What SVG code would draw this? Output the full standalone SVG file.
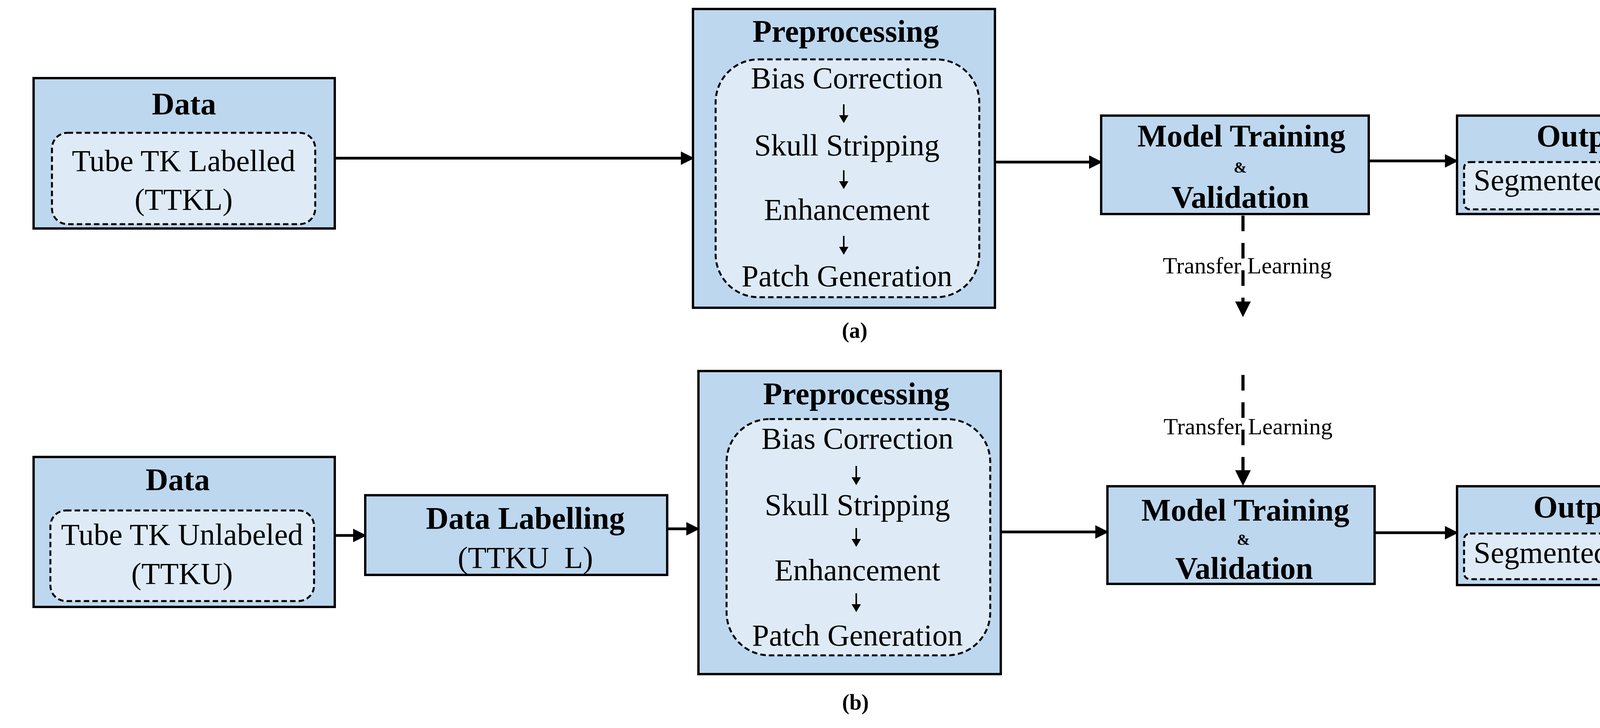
<svg xmlns="http://www.w3.org/2000/svg" width="4505" height="1864" viewBox="0 0 4505 1864">
<style>
.box{fill:#bdd7ee;stroke:#000;stroke-width:6}
.in{fill:#deebf7;stroke:#000;stroke-width:5;stroke-dasharray:14 8}
text{font-family:"Liberation Serif","Times New Roman",serif;text-anchor:middle;fill:#000}
.t{font-size:80px;font-weight:bold}
.n{font-size:78px}
.amp{font-size:40px;font-weight:bold}
.tl{font-size:60px}
.cap{font-size:56px;font-weight:bold}
.c{stroke:#000;stroke-width:7;fill:none}
.s{stroke:#000;stroke-width:4;fill:none}
.d{stroke:#000;stroke-width:8;fill:none;stroke-dasharray:40 30}
</style>
<defs>
<marker id="ah" markerWidth="5" markerHeight="5" refX="4.5" refY="2.5" orient="auto" markerUnits="strokeWidth"><path d="M0,0 L5,2.5 L0,5 z" fill="#000"/></marker>
<marker id="sh" markerWidth="5" markerHeight="6" refX="4.5" refY="3" orient="auto" markerUnits="strokeWidth"><path d="M0,0 L5,3 L0,6 z" fill="#000"/></marker>
</defs>
<g id="data-a"><rect class="box" x="86" y="200" width="771" height="385"/><text class="t" x="471" y="293">Data</text><rect class="in" x="133" y="340" width="674" height="234" rx="40"/><text class="n" x="470" y="438">Tube TK Labelled</text><text class="n" x="470" y="537">(TTKL)</text></g>
<g id="pre-a"><rect class="box" x="1774" y="23" width="773" height="765"/><text class="t" x="2165" y="107">Preprocessing</text><rect class="in" x="1832" y="152" width="675" height="609" rx="110"/><text class="n" x="2168" y="226">Bias Correction</text><text class="n" x="2168" y="398">Skull Stripping</text><text class="n" x="2168" y="563">Enhancement</text><text class="n" x="2168" y="733">Patch Generation</text></g>
<g id="model-a"><rect class="box" x="2819" y="296" width="685" height="252"/><text class="t" x="3178" y="375">Model Training</text><text class="amp" x="3175" y="442">&amp;</text><text class="t" x="3175" y="532">Validation</text></g>
<g id="out-a"><rect class="box" x="3730" y="296" width="639" height="252"/><text class="t" x="4058" y="375">Output</text><rect class="in" x="3748" y="415" width="610" height="121" rx="15"/><text class="n" x="4053" y="487">Segmented Image</text></g>
<text class="cap" x="2188" y="865">(a)</text>
<g id="data-b"><rect class="box" x="86" y="1170" width="771" height="384"/><text class="t" x="455" y="1255">Data</text><rect class="in" x="129" y="1307" width="675" height="232" rx="40"/><text class="n" x="466" y="1395">Tube TK Unlabeled</text><text class="n" x="466" y="1495">(TTKU)</text></g>
<g id="label-b"><rect class="box" x="935" y="1268" width="773" height="204"/><text class="t" x="1345" y="1354">Data Labelling</text><text class="n" x="1345" y="1454">(TTKU&#160; L)</text></g>
<g id="pre-b"><rect class="box" x="1788" y="950" width="774" height="776"/><text class="t" x="2192" y="1035">Preprocessing</text><rect class="in" x="1860" y="1073" width="675" height="605" rx="110"/><text class="n" x="2195" y="1149">Bias Correction</text><text class="n" x="2195" y="1319">Skull Stripping</text><text class="n" x="2195" y="1486">Enhancement</text><text class="n" x="2195" y="1653">Patch Generation</text></g>
<g id="model-b"><rect class="box" x="2835" y="1245" width="684" height="250"/><text class="t" x="3188" y="1333">Model Training</text><text class="amp" x="3183" y="1395">&amp;</text><text class="t" x="3185" y="1482">Validation</text></g>
<g id="out-b"><rect class="box" x="3730" y="1245" width="639" height="253"/><text class="t" x="4050" y="1325">Output</text><rect class="in" x="3748" y="1366" width="610" height="117" rx="15"/><text class="n" x="4053" y="1441">Segmented Image</text></g>
<text class="cap" x="2190" y="1817">(b)</text>
<g id="connectors">
<line class="c" x1="857" y1="405" x2="1774" y2="405" marker-end="url(#ah)"/>
<line class="c" x1="2547" y1="415" x2="2819" y2="415" marker-end="url(#ah)"/>
<line class="c" x1="3504" y1="412" x2="3730" y2="412" marker-end="url(#ah)"/>
<line class="s" x1="2160" y1="267" x2="2160" y2="313" marker-end="url(#sh)"/>
<line class="s" x1="2160" y1="436" x2="2160" y2="482" marker-end="url(#sh)"/>
<line class="s" x1="2160" y1="604" x2="2160" y2="650" marker-end="url(#sh)"/>
<line class="d" x1="3182" y1="552" x2="3182" y2="808" marker-end="url(#ah)"/>
<line class="d" x1="3182" y1="960" x2="3182" y2="1240" marker-end="url(#ah)"/>
<line class="c" x1="857" y1="1371" x2="935" y2="1371" marker-end="url(#ah)"/>
<line class="c" x1="1708" y1="1354" x2="1788" y2="1354" marker-end="url(#ah)"/>
<line class="c" x1="2562" y1="1362" x2="2835" y2="1362" marker-end="url(#ah)"/>
<line class="c" x1="3519" y1="1364" x2="3730" y2="1364" marker-end="url(#ah)"/>
<line class="s" x1="2192" y1="1193" x2="2192" y2="1240" marker-end="url(#sh)"/>
<line class="s" x1="2192" y1="1352" x2="2192" y2="1398" marker-end="url(#sh)"/>
<line class="s" x1="2192" y1="1519" x2="2192" y2="1565" marker-end="url(#sh)"/>
</g>
<text class="tl" x="3193" y="700">Transfer Learning</text>
<text class="tl" x="3195" y="1112">Transfer Learning</text>
</svg>
